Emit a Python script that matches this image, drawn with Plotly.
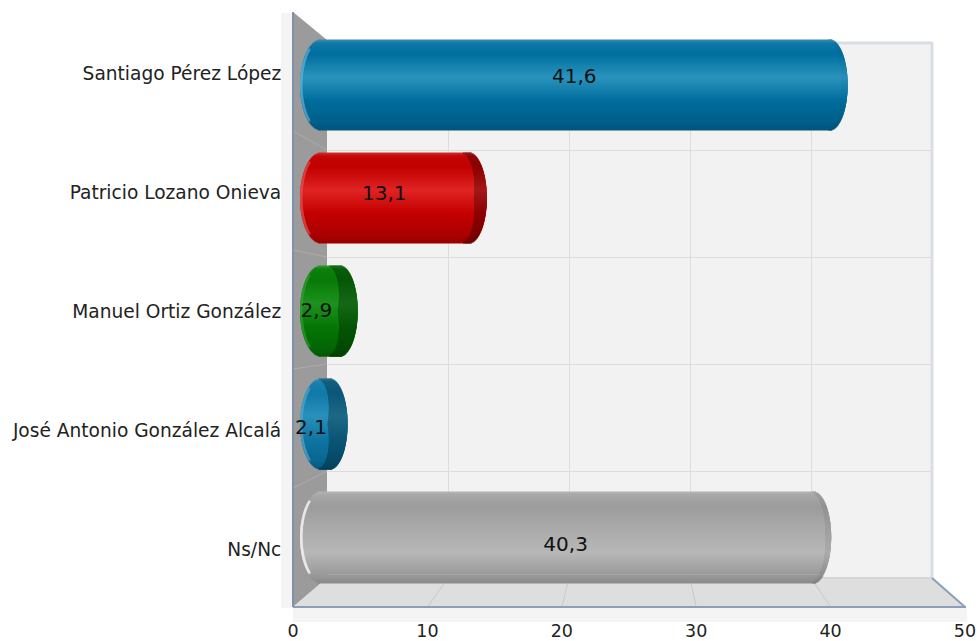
import numpy as np
import plotly.graph_objects as go

# ---- data ----
categories = ["Santiago Pérez López", "Patricio Lozano Onieva", "Manuel Ortiz González",
              "José Antonio González Alcalá", "Ns/Nc"]
values = [41.6, 13.1, 2.9, 2.1, 40.3]
x_ticks = [0, 10, 20, 30, 40, 50]

# ---- style ----
W, H = 979, 641
FONT = "DejaVu Sans, sans-serif"
stops = [0, .04, .16, .42, .68, .92, 1]
palettes = [
    ["#3d8fb5", "#0f7aa5", "#006f9f", "#2b94bd", "#006e9e", "#005f8a", "#02577e"],
    ["#d03030", "#c40808", "#c20000", "#e02424", "#c40000", "#aa0000", "#980000"],
    ["#2f9a2f", "#0c820c", "#087a08", "#1e921e", "#067806", "#056605", "#045a04"],
    ["#3d95bd", "#1b82ad", "#107aa8", "#2a90bb", "#0f76a4", "#0a668f", "#085a80"],
    ["#b5b5b5", "#a8a8a8", "#9c9c9c", "#ababab", "#b8b8b8", "#9a9a9a", "#8c8c8c"],
]
cap_dark = [0.97, 0.72, 0.72, 0.72, 0.93]
cap_px = [6, 13, 20, 20, 6]
rim_col = ["#6fb6d4", "#e25a5a", "#3fa03f", "#5fa8ca", "#ececec"]
rim_op = [.45, .45, .4, .45, .8]


def hex2rgb(c):
    return np.array([int(c[i:i + 2], 16) for i in (1, 3, 5)], dtype=float)


def shade(pal, t, f=1.0):
    rgb = np.array([np.interp(t, stops, [hex2rgb(c)[k] for c in pal]) for k in range(3)]) * f
    return "rgb(%d,%d,%d)" % tuple(rgb)


def px(x):
    return x / W


def py(y):
    return 1 - y / H


# px geometry of the depth planes
FRONT_X = (293, 965); FRONT_Y = (607, 12)
AXIS_Y = (609, 14)
BACK_X = (327, 932); BACK_Y = (578, 43)
BAR_ZERO, BAR_SCALE = 321, 12.66
BAR_Y = (594, 28.5)
LAB_X = (297, 963.5); LAB_Y = (604.5, 19.5)
BAR_MIN = -4

fig = go.Figure()

fig.add_trace(go.Scatter(x=[0], y=[0], mode="markers", marker=dict(opacity=0), xaxis="x", yaxis="y",
                         hoverinfo="skip", showlegend=False))
fig.add_trace(go.Scatter(x=[0], y=[0], mode="markers", marker=dict(opacity=0), xaxis="x2", yaxis="y2",
                         hoverinfo="skip", showlegend=False))

# cylinders from horizontal slices
N = 90
bar_h = 0.80
rx_l, rx_r = 21 / BAR_SCALE, 18 / BAR_SCALE
start = -21 / BAR_SCALE
ts = (np.arange(N) + .5) / N
for i, v in enumerate(values):
    ys = i - bar_h / 2 + ts * bar_h
    u = 2 * ts - 1
    inset = 1 - np.sqrt(1 - u ** 2)
    lefts = start + rx_l * inset
    rights = v - rx_r * inset
    w = bar_h / N * 1.3
    fig.add_trace(go.Bar(orientation="h", y=ys, base=lefts, x=rights - lefts, width=w,
                         marker=dict(color=[shade(palettes[i], t) for t in ts], line_width=0),
                         xaxis="x3", yaxis="y3", hoverinfo="skip", showlegend=False))
    # darker end face
    cw = cap_px[i] / BAR_SCALE
    face = rights - cw * (1 - .35 * np.abs(u))
    fig.add_trace(go.Bar(orientation="h", y=ys, base=face, x=rights - face, width=w,
                         marker=dict(color=[shade(palettes[i], t, cap_dark[i]) for t in ts], line_width=0),
                         xaxis="x3", yaxis="y3", hoverinfo="skip", showlegend=False))
    # light rim on the left
    rw = 2.5 / BAR_SCALE
    mask = np.abs(u) < .8
    fig.add_trace(go.Bar(orientation="h", y=ys[mask], base=lefts[mask], x=np.full(mask.sum(), rw), width=w,
                         marker=dict(color=rim_col[i], line_width=0, opacity=rim_op[i]),
                         xaxis="x3", yaxis="y3", hoverinfo="skip", showlegend=False))

# value labels
fig.add_trace(go.Scatter(x=[v / 2 for v in values], y=list(range(len(values))), mode="text",
                         text=[f"{v:.1f}".replace(".", ",") for v in values],
                         textposition="middle center",
                         textfont=dict(family=FONT, size=20, color="#111111"),
                         xaxis="x4", yaxis="y4", hoverinfo="skip", showlegend=False, cliponaxis=False))

# ---- decoration of the 3D box ----
shapes = []


def poly(pts, fill, line=None, w=0):
    d = "M " + " L ".join(f"{px(a):.5f},{py(b):.5f}" for a, b in pts) + " Z"
    shapes.append(dict(type="path", path=d, xref="paper", yref="paper", fillcolor=fill,
                       line=dict(color=line or fill, width=w), layer="below"))


def seg(a, b, c, d, col, w=1):
    shapes.append(dict(type="line", xref="paper", yref="paper", x0=px(a), y0=py(b), x1=px(c), y1=py(d),
                       line=dict(color=col, width=w), layer="below"))


poly([(281, 13), (293, 13), (293, 608), (281, 608)], "#f4f4f4")
poly([(293, 608), (967, 608), (967, 622), (293, 622)], "#f4f4f4")
poly([(327, 43), (932, 43), (932, 578), (327, 578)], "#f2f2f2")
poly([(293, 12), (327, 40), (327, 578), (293, 607)], "#9b9b9b")
poly([(293, 607), (327, 578), (932, 578), (965, 607)], "#dedede")

n_x = len(x_ticks)
for k in range(1, n_x - 1):
    fx = FRONT_X[0] + (FRONT_X[1] - FRONT_X[0]) * k / (n_x - 1)
    bx = BACK_X[0] + (BACK_X[1] - BACK_X[0]) * k / (n_x - 1)
    seg(fx, 607, bx, 578, "#c9c9c9")
n_y = len(categories)
for k in range(1, n_y):
    fy = FRONT_Y[1] + (FRONT_Y[0] - FRONT_Y[1]) * k / n_y
    by = BACK_Y[1] + (BACK_Y[0] - BACK_Y[1]) * k / n_y
    seg(293, fy, 327, by, "#ababab")

seg(327, 43, 933, 43, "#d9dee6", 3)
seg(932, 43, 932, 578, "#d9dee6", 3)
seg(327, 578, 932, 578, "#d4d6da", 2)
seg(932, 578, 965, 607, "#8c9fb8", 2)
seg(293, 607, 966, 607, "#8c9fb8", 2)
seg(293, 12, 293, 607, "#7f90aa", 2)

fig.update_layout(
    template="none",
    width=W, height=H, margin=dict(l=0, r=0, t=0, b=0), autosize=False,
    paper_bgcolor="white", plot_bgcolor="rgba(0,0,0,0)",
    barmode="overlay", showlegend=False, shapes=shapes,
    font=dict(family=FONT, color="#222222"),
    xaxis=dict(domain=[px(FRONT_X[0]), px(FRONT_X[1])], range=[0, 50], tickvals=x_ticks,
               showgrid=False, zeroline=False, showline=False, ticks="outside", ticklen=6,
               tickcolor="rgba(0,0,0,0)", tickfont=dict(family=FONT, size=17.5, color="#222222"),
               anchor="y", automargin=False),
    yaxis=dict(domain=[py(AXIS_Y[0]), py(AXIS_Y[1])], range=[4.5, -0.5], tickvals=list(range(len(categories))),
               ticktext=categories, showgrid=False, zeroline=False, showline=False, ticks="outside", ticklen=7,
               tickcolor="rgba(0,0,0,0)", tickfont=dict(family=FONT, size=18.6, color="#222222"),
               anchor="x", automargin=False),
    xaxis2=dict(domain=[px(BACK_X[0]), px(BACK_X[1])], range=[0, 50], tickvals=x_ticks,
                showgrid=True, gridcolor="#dddddd", gridwidth=1, zeroline=False, showticklabels=False,
                ticks="", showline=False, anchor="y2", automargin=False),
    yaxis2=dict(domain=[py(BACK_Y[0]), py(BACK_Y[1])], range=[4.5, -0.5],
                tickvals=[k + .5 for k in range(len(categories) - 1)],
                showgrid=True, gridcolor="#dddddd", gridwidth=1, zeroline=False, showticklabels=False,
                ticks="", showline=False, anchor="x2", automargin=False),
    xaxis3=dict(domain=[px(BAR_ZERO + BAR_MIN * BAR_SCALE), px(BAR_ZERO + 50 * BAR_SCALE)], range=[BAR_MIN, 50],
                visible=False, anchor="y3"),
    yaxis3=dict(domain=[py(BAR_Y[0]), py(BAR_Y[1])], range=[4.5, -0.5], visible=False, anchor="x3"),
    xaxis4=dict(domain=[px(LAB_X[0]), px(LAB_X[1])], range=[0, 50], visible=False, anchor="y4"),
    yaxis4=dict(domain=[py(LAB_Y[0]), py(LAB_Y[1])], range=[4.5, -0.5], visible=False, anchor="x4"),
)

fig.write_html("out.html", config=dict(displayModeBar=False), post_script="document.body.style.margin='0';")
